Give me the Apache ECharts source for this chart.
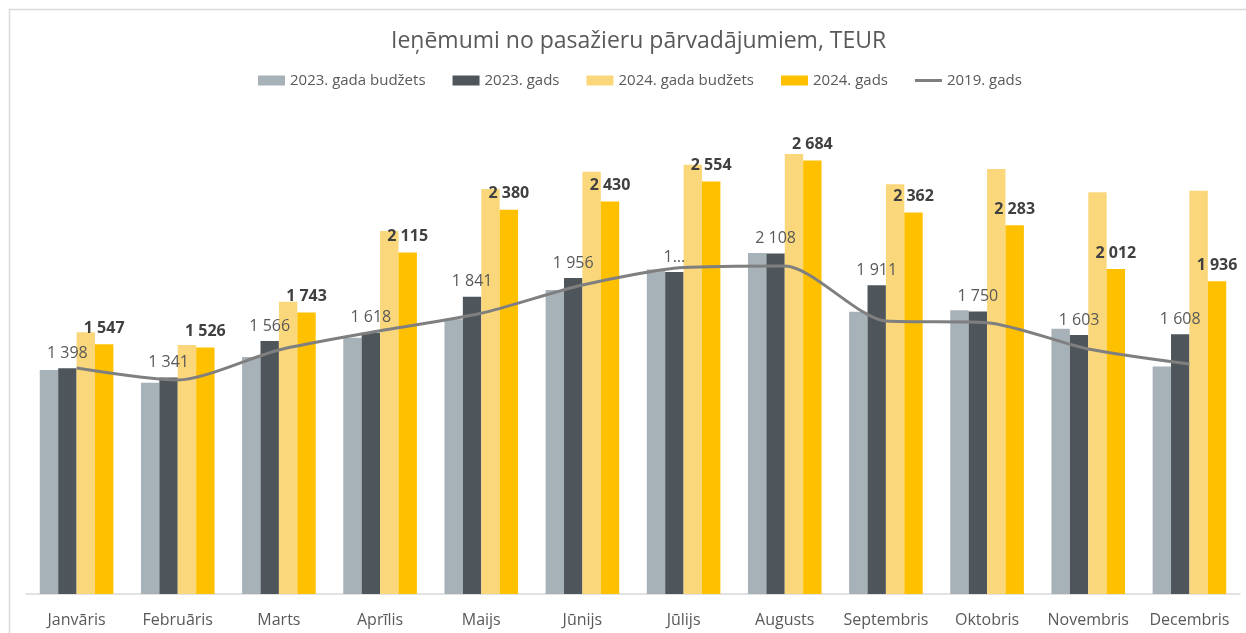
<!DOCTYPE html>
<html>
<head>
<meta charset="utf-8">
<script src="https://cdn.jsdelivr.net/npm/echarts@6/dist/echarts.min.js"></script>
<style>html,body{margin:0;padding:0;background:#fff;}#c{width:1246px;height:633px;}</style>
</head>
<body>
<div id="c"></div>
<script>
const categories = ['Janvāris','Februāris','Marts','Aprīlis','Maijs','Jūnijs','Jūlijs','Augusts','Septembris','Oktobris','Novembris','Decembris'];
const budget2023 = [1387, 1308, 1467, 1587, 1701, 1882, 2010, 2111, 1748, 1757, 1643, 1408];
const actual2023 = [1398, 1341, 1566, 1618, 1841, 1956, 1994, 2108, 1911, 1750, 1603, 1608];
const budget2024 = [1620, 1542, 1810, 2248, 2508, 2615, 2658, 2724, 2537, 2632, 2487, 2497];
const actual2024 = [1547, 1526, 1743, 2115, 2380, 2430, 2554, 2684, 2362, 2283, 2012, 1936];
const actual2019 = [1399, 1325, 1511, 1630, 1738, 1913, 2021, 2031, 1690, 1680, 1517, 1424];
const truncatedLabels = {6: '1…'};

const fmt = v => String(v).replace(/\B(?=(\d{3})+(?!\d))/g, ' ');
const FONT = '"Open Sans", "Noto Sans", sans-serif';
const LINE_ICON = 'path://M0,0L0.01,0L0,0.01Z M0,3.5H27V6.5H0Z M27,10L26.99,10L27,9.99Z';

const chart = echarts.init(document.getElementById('c'), null, {renderer: 'canvas'});
chart.setOption({
  animation: false,
  backgroundColor: '#ffffff',
  textStyle: {fontFamily: FONT},
  graphic: [{
    type: 'rect', silent: true, z: -10,
    shape: {x: 9.5, y: 9.5, width: 1400, height: 800},
    style: {fill: 'none', stroke: '#d9d9d9', lineWidth: 1.5}
  }],
  title: {
    text: 'Ieņēmumi no pasažieru pārvadājumiem, TEUR',
    left: 386, top: 25,
    textStyle: {fontFamily: FONT, fontSize: 23, fontWeight: 'normal', color: '#595959'}
  },
  legend: {
    top: 68, left: 253,
    itemWidth: 27, itemHeight: 10, itemGap: 27,
    textStyle: {fontFamily: FONT, fontSize: 15, color: '#595959'},
    data: [
      {name: '2023. gada budžets', icon: 'rect'},
      {name: '2023. gads', icon: 'rect'},
      {name: '2024. gada budžets', icon: 'rect'},
      {name: '2024. gads', icon: 'rect'},
      {name: '2019. gads', icon: LINE_ICON, itemStyle: {color: '#7F7F7F'}}
    ]
  },
  grid: {left: 26, right: 6, top: 109.5, bottom: 39, containLabel: false},
  xAxis: {
    type: 'category', data: categories,
    axisLine: {lineStyle: {color: '#d9d9d9', width: 1.5}},
    axisTick: {show: false},
    axisLabel: {interval: 0, fontFamily: FONT, fontSize: 16, color: '#595959', margin: 18}
  },
  yAxis: {
    type: 'value', min: 0, max: 3000, show: false,
    splitLine: {show: false}
  },
  series: [
    {name: '2023. gada budžets', type: 'bar', data: budget2023, barWidth: 18.4, barGap: '0%',
     itemStyle: {color: '#A7B1B8'}},
    {name: '2023. gads', type: 'bar', data: actual2023.map((v, i) => truncatedLabels[i] ? {value: v, label: {formatter: truncatedLabels[i]}} : v),
     barWidth: 18.4, barGap: '0%', itemStyle: {color: '#4F565B'},
     label: {show: true, position: 'top', distance: 7, fontFamily: FONT, fontSize: 16, color: '#595959',
       formatter: p => fmt(p.value)}},
    {name: '2024. gada budžets', type: 'bar', data: budget2024, barWidth: 18.4, barGap: '0%',
     itemStyle: {color: '#FAD77B'}},
    {name: '2024. gads', type: 'bar', data: actual2024, barWidth: 18.4, barGap: '0%',
     itemStyle: {color: '#FFC000'},
     label: {show: true, position: 'top', distance: 8, fontFamily: FONT, fontSize: 16, fontWeight: 'bold', color: '#404040',
       formatter: p => fmt(p.value)}},
    {name: '2019. gads', type: 'line', data: actual2019, smooth: 0.25, symbol: 'none', z: 5,
     itemStyle: {color: '#7F7F7F'},
     lineStyle: {color: '#7F7F7F', width: 3}}
  ]
});
</script>
</body>
</html>
